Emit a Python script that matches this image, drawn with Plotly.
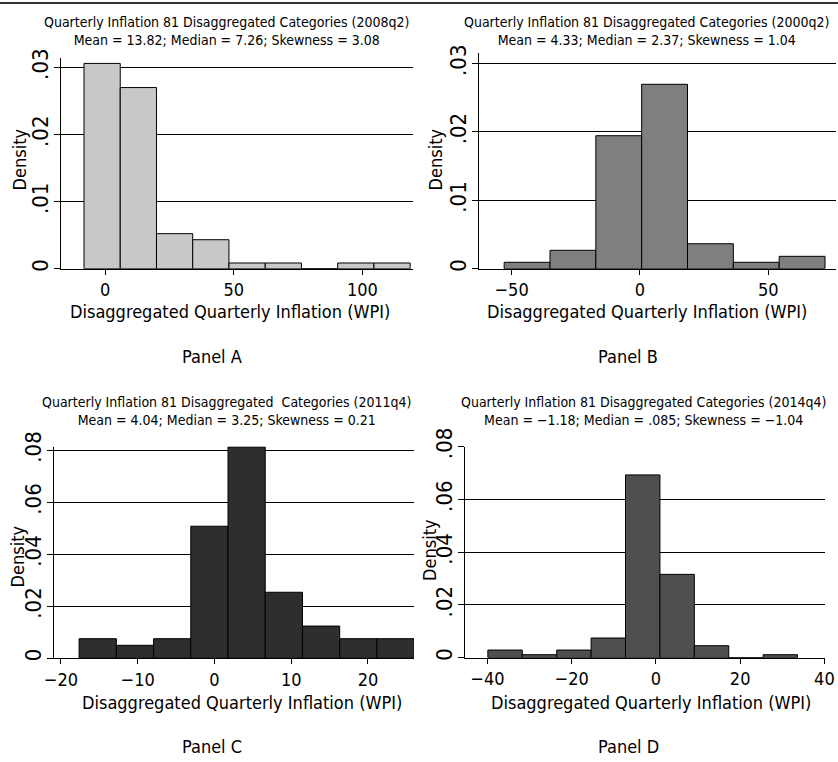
import plotly.graph_objects as go

W, H = 838, 762
FONT = "DejaVu Sans Condensed, Liberation Sans Narrow, DejaVu Sans, sans-serif"

# ---- data ----
edges_a = [-8.26, 5.84, 19.93, 34.03, 48.12, 62.22, 76.31, 90.41, 104.5, 118.6]
dens_a = [0.0306, 0.0270, 0.00522, 0.00432, 0.00085, 0.00085, 0.0, 0.00085, 0.00085]

edges_b = [-52.9, -35.04, -17.18, 0.68, 18.54, 36.4, 54.26, 72.12]
dens_b = [0.00094, 0.00269, 0.01944, 0.02696, 0.00365, 0.00094, 0.00181]

edges_c = [-17.63, -12.78, -7.93, -3.08, 1.77, 6.62, 11.47, 16.32, 21.17, 26.02]
dens_c = [0.00754, 0.0050, 0.00754, 0.0508, 0.0813, 0.0254, 0.0124, 0.00754, 0.00754]

edges_d = [-39.9, -31.73, -23.56, -15.39, -7.22, 0.95, 9.12, 17.29, 25.46, 33.63]
dens_d = [0.0029, 0.00114, 0.0029, 0.00746, 0.0693, 0.0316, 0.00455, 0.0, 0.00114]

titles = [
    "Quarterly Inflation 81 Disaggregated Categories (2008q2)<br>Mean = 13.82; Median = 7.26; Skewness = 3.08",
    "Quarterly Inflation 81 Disaggregated Categories (2000q2)<br>Mean = 4.33; Median = 2.37; Skewness = 1.04",
    "Quarterly Inflation 81 Disaggregated  Categories (2011q4)<br>Mean = 4.04; Median = 3.25; Skewness = 0.21",
    "Quarterly Inflation 81 Disaggregated Categories (2014q4)<br>Mean = \u22121.18; Median = .085; Skewness = \u22121.04",
]
panel_labels = ["Panel A", "Panel B", "Panel C", "Panel D"]
xtitle = "Disaggregated Quarterly Inflation (WPI)"

xticks_a = [0, 50, 100]
xticks_b = [-50, 0, 50]
xticks_c = [-20, -10, 0, 10, 20]
xticks_d = [-40, -20, 0, 20, 40]
xticktext_a = ["0", "50", "100"]
xticktext_b = ["\u221250", "0", "50"]
xticktext_c = ["\u221220", "\u221210", "0", "10", "20"]
xticktext_d = ["\u221240", "\u221220", "0", "20", "40"]

yticks_ab = [0, 0.01, 0.02, 0.03]
yticktext_ab = ["0", ".01", ".02", ".03"]
yticks_cd = [0, 0.02, 0.04, 0.06, 0.08]
yticktext_cd = ["0", ".02", ".04", ".06", ".08"]

colors = ["#c8c8c8", "#7f7f7f", "#2e2e2e", "#4f4f4f"]

# ---- layout geometry (pixels) ----
boxes = [
    (61, 413, 57.7, 268.7, (-17.2, 119.7), (0, 0.03145)),
    (479, 836, 52.7, 268.7, (-62.7, 76.4), (0, 0.03158)),
    (54, 414, 446.5, 658.3, (-20.9, 26.0), (0, 0.08146)),
    (464.7, 824.7, 446.7, 657.7, (-45.4, 40.07), (0, 0.08)),
]
title_pos = [(226, 31), (646, 31), (226, 411), (643, 411)]
xtitle_pos = [(230, 311), (647, 311), (242, 702), (651, 702)]
panel_pos = [(212, 356), (628, 356), (212, 746), (628, 746)]
density_pos = [(18.5, 160), (434.5, 160), (16.5, 557), (429, 550)]

edges_all = [edges_a, edges_b, edges_c, edges_d]
dens_all = [dens_a, dens_b, dens_c, dens_d]
xt_all = [(xticks_a, xticktext_a), (xticks_b, xticktext_b), (xticks_c, xticktext_c), (xticks_d, xticktext_d)]
yt_all = [(yticks_ab, yticktext_ab), (yticks_ab, yticktext_ab), (yticks_cd, yticktext_cd), (yticks_cd, yticktext_cd)]

fig = go.Figure()
layout = dict(
    width=W, height=H, autosize=False,
    margin=dict(l=0, r=0, t=0, b=0, autoexpand=False),
    paper_bgcolor="white", plot_bgcolor="white",
    showlegend=False, bargap=0,
    font=dict(family=FONT, color="black"),
)
annotations = []

def px(x):
    return x / W

def py(y):
    return 1 - y / H

for i in range(4):
    n = "" if i == 0 else str(i + 1)
    edges = edges_all[i]
    centers = [(edges[k] + edges[k + 1]) / 2 for k in range(len(edges) - 1)]
    widths = [edges[k + 1] - edges[k] for k in range(len(edges) - 1)]
    fig.add_trace(go.Bar(
        x=centers, y=dens_all[i], width=widths,
        marker=dict(color=colors[i], line=dict(color="black", width=1)),
        xaxis="x" + n, yaxis="y" + n, hoverinfo="skip",
    ))
    x0, x1, yt, yb, xr, yr = boxes[i]
    layout["xaxis" + n] = dict(
        domain=[px(x0), px(x1)], range=list(xr), anchor="y" + n, automargin=False,
        showgrid=False, zeroline=False, showline=True, linecolor="black", linewidth=1,
        ticks="outside", ticklen=5, tickcolor="black", tickwidth=1,
        tickvals=xt_all[i][0], ticktext=xt_all[i][1],
        tickfont=dict(family=FONT, size=18, color="black"),
    )
    layout["yaxis" + n] = dict(
        domain=[py(yb), py(yt)], range=list(yr), anchor="x" + n, automargin=False,
        showgrid=True, gridcolor="black", gridwidth=1,
        zeroline=False, showline=True, linecolor="black", linewidth=1,
        ticks="outside", ticklen=6, tickcolor="black", tickwidth=1,
        tickvals=yt_all[i][0], ticktext=yt_all[i][1], tickangle=-90,
        ticklabelstandoff=-3,
        tickfont=dict(family=FONT, size=22, color="black"),
    )
    annotations.append(dict(
        text=titles[i], x=px(title_pos[i][0]), y=py(title_pos[i][1]),
        xref="paper", yref="paper", showarrow=False, xanchor="center", yanchor="middle",
        font=dict(family=FONT, size=14, color="black"),
    ))
    annotations.append(dict(
        text=xtitle, x=px(xtitle_pos[i][0]), y=py(xtitle_pos[i][1]),
        xref="paper", yref="paper", showarrow=False, xanchor="center", yanchor="middle",
        font=dict(family=FONT, size=18, color="black"),
    ))
    annotations.append(dict(
        text=panel_labels[i], x=px(panel_pos[i][0]), y=py(panel_pos[i][1]),
        xref="paper", yref="paper", showarrow=False, xanchor="center", yanchor="middle",
        font=dict(family=FONT, size=18, color="black"),
    ))
    annotations.append(dict(
        text="Density", x=px(density_pos[i][0]), y=py(density_pos[i][1]), textangle=-90,
        xref="paper", yref="paper", showarrow=False, xanchor="center", yanchor="middle",
        font=dict(family=FONT, size=18, color="black"),
    ))

layout["annotations"] = annotations
# top rule of the figure: thin dark band across the full width
layout["shapes"] = [
    dict(type="line", xref="paper", yref="paper", x0=0, x1=1, y0=py(3), y1=py(3),
         layer="above", line=dict(color="#333333", width=2)),
]
fig.update_layout(**layout)
fig.write_html(
    "out.html",
    config={"displayModeBar": False, "staticPlot": True},
    post_script=(
        "document.body.style.margin='0';document.body.style.padding='0';"
        "document.body.style.overflow='hidden';"
        "document.documentElement.style.borderTop='0';"
    ),
    default_width="838px", default_height="762px",
)
